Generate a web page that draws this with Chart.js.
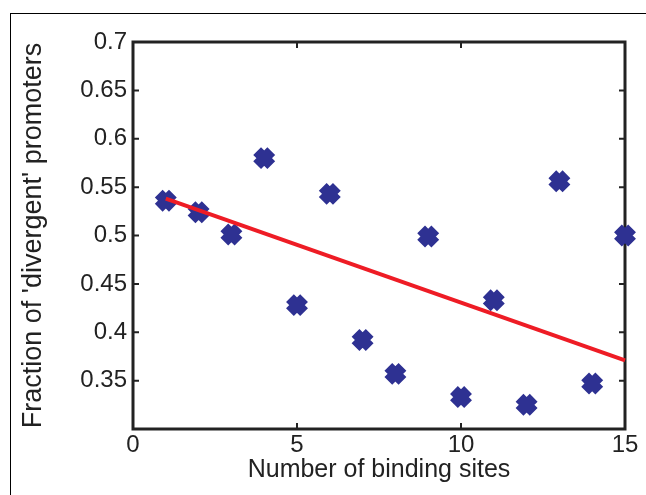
<!DOCTYPE html>
<html>
<head>
<meta charset="utf-8">
<script src="https://cdn.jsdelivr.net/npm/chart.js@4.4.1/dist/chart.umd.min.js"></script>
<style>
  body { margin: 0; background: #fff; }
  .wrap { position: relative; width: 646px; height: 495px; }
  .frame { position: absolute; left: 10px; top: 13px; right: 0; bottom: 0;
           border-top: 1px solid #000; border-left: 1px solid #000; }
  canvas { position: absolute; left: 0; top: 0; }
</style>
</head>
<body>
<div class="wrap">
  <div class="frame"></div>
  <canvas id="chart" width="646" height="495"></canvas>
</div>
<script>
// binding sites vs fraction of divergent promoters
const sites = [1, 2, 3, 4, 5, 6, 7, 8, 9, 10, 11, 12, 13, 14, 15];
const fractions = [0.536, 0.524, 0.501, 0.580, 0.428, 0.543, 0.392, 0.357, 0.499, 0.333, 0.433, 0.325, 0.556, 0.347, 0.500];

// fitted trend line end points
const fitX = [1, 15];
const fitY = [0.538, 0.371];

const xTicks = [0, 5, 10, 15];
const yTicks = [0.3, 0.35, 0.4, 0.45, 0.5, 0.55, 0.6, 0.65, 0.7];

const font = 'Liberation Sans, Arial, Helvetica, sans-serif';

// box around the axes with inward tick marks (matlab style)
const boxPlugin = {
  id: 'box',
  beforeDatasetsDraw(chart) {
    const { ctx } = chart;
    const x = chart.scales.x, y = chart.scales.y;
    const l = x.getPixelForValue(0), r = x.getPixelForValue(15);
    const t = y.getPixelForValue(0.7), b = y.getPixelForValue(0.3);
    ctx.save();
    ctx.strokeStyle = '#222';
    ctx.lineWidth = 2;
    ctx.beginPath();
    xTicks.forEach(v => {
      const px = x.getPixelForValue(v);
      ctx.moveTo(px, b); ctx.lineTo(px, b - 6);
      ctx.moveTo(px, t); ctx.lineTo(px, t + 6);
    });
    yTicks.forEach(v => {
      const py = y.getPixelForValue(v);
      ctx.moveTo(l, py); ctx.lineTo(l + 6, py);
      ctx.moveTo(r, py); ctx.lineTo(r - 6, py);
    });
    ctx.stroke();
    ctx.lineWidth = 3;
    ctx.lineJoin = 'miter';
    ctx.strokeRect(l, t, r - l, b - t);
    ctx.restore();
  }
};

const ctx = document.getElementById('chart').getContext('2d');
new Chart(ctx, {
  type: 'scatter',
  data: {
    datasets: [
      {
        type: 'line',
        data: fitX.map((v, i) => ({ x: v, y: fitY[i] })),
        borderColor: '#ee1c25',
        borderWidth: 4,
        pointRadius: 0,
        fill: false,
        clip: false
      },
      {
        data: sites.map((v, i) => ({ x: v, y: fractions[i] })),
        pointStyle: 'crossRot',
        pointRadius: 10,
        pointBorderWidth: 11,
        borderColor: '#2e3192',
        backgroundColor: '#2e3192',
        clip: false
      }
    ]
  },
  options: {
    responsive: false,
    animation: false,
    layout: { padding: { left: 0, top: 42, right: 19, bottom: 0 } },
    plugins: { legend: { display: false }, tooltip: { enabled: false } },
    scales: {
      x: {
        type: 'linear',
        min: 0,
        max: 15,
        afterBuildTicks: s => { s.ticks = xTicks.map(v => ({ value: v })); },
        afterFit: s => { s.height = 66; },
        grid: { display: false, drawTicks: false },
        border: { display: false },
        ticks: { padding: 2, color: '#222', font: { family: font, size: 24 } },
        title: {
          display: true,
          text: 'Number of binding sites',
          color: '#222',
          padding: { top: 0, bottom: 10 },
          font: { family: font, size: 25 }
        }
      },
      y: {
        type: 'linear',
        min: 0.3,
        max: 0.7,
        afterBuildTicks: s => { s.ticks = yTicks.map(v => ({ value: v })); },
        afterFit: s => { s.width = 133; },
        grid: { display: false, drawTicks: false },
        border: { display: false },
        ticks: {
          padding: 6,
          color: '#222',
          font: { family: font, size: 24 },
          callback: v => (v < 0.31 ? '' : String(+v.toFixed(2)))
        },
        title: {
          display: true,
          text: "Fraction of 'divergent' promoters",
          color: '#222',
          padding: { top: 17, bottom: 0 },
          font: { family: font, size: 27 }
        }
      }
    }
  },
  plugins: [boxPlugin]
});
</script>
</body>
</html>
